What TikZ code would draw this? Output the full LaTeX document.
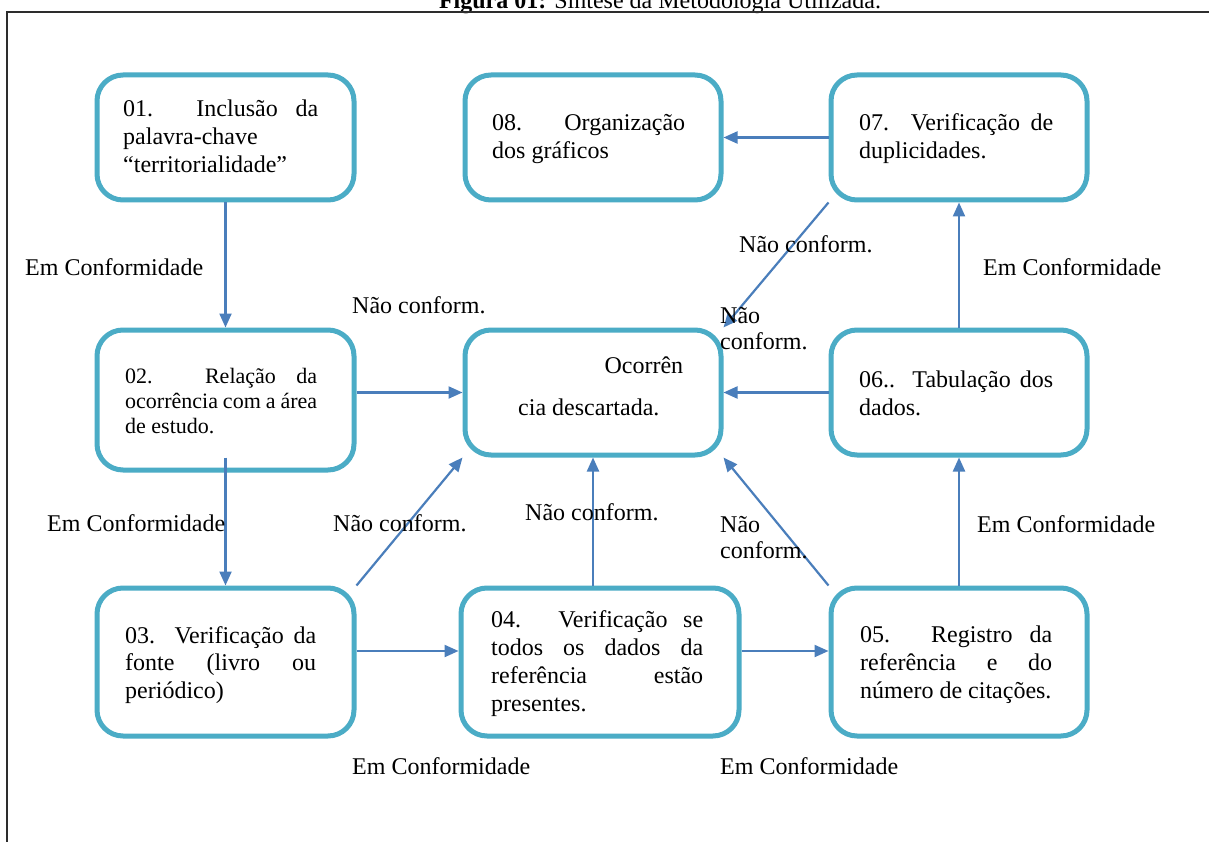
\documentclass[tikz,border=0pt]{standalone}
\usepackage{fontspec}
\setmainfont{Liberation Serif}
\usetikzlibrary{arrows.meta,calc}

\definecolor{boxline}{RGB}{75,172,198}
\definecolor{arrowblue}{RGB}{74,126,187}
\definecolor{framegray}{RGB}{45,45,45}

% text block helpers: justified line, left line, fixed-baseline stack
\newcommand{\jline}[1]{\hbox to\hsize{#1}}
\newcommand{\lline}[1]{\hbox{#1}}
\newcommand{\boxlines}[3]{\vtop{\hsize=#1\baselineskip=#2\lineskiplimit=-100pt\lineskip=0pt #3}}

\tikzset{
  stepbox/.style={draw=boxline, line width=5pt, rounded corners=26pt, fill=white, inner sep=0pt},
  txt/.style={anchor=base west, inner sep=0pt, font=\fontsize{24}{28}\selectfont},
  small/.style={anchor=base west, inner sep=0pt, font=\fontsize{22}{25}\selectfont},
  flow/.style={draw=arrowblue, line width=2.2pt, -{Triangle[length=14pt,width=12pt]}},
}

\begin{document}
\begin{tikzpicture}[x=1pt,y=-1pt]
\useasboundingbox (0,0) rectangle (1209,842);
\fill[white] (0,0) rectangle (1209,842);

% caption and frame
\node[anchor=base, inner sep=0pt, font=\fontsize{24}{28}\selectfont] (title) at (660,9)
  {\textbf{Figura 01:} Síntese da Metodologia Utilizada.};
\draw[framegray, line width=1.5pt] (7,900) -- (7,12) -- (1250,12);

% boxes
\node[stepbox, minimum width=257pt, minimum height=125pt] (b01) at (225.5,137.5) {};
\node[stepbox, minimum width=256pt, minimum height=125pt] (b08) at (593,137.5) {};
\node[stepbox, minimum width=256pt, minimum height=125pt] (b07) at (959,137.5) {};
\node[stepbox, minimum width=257pt, minimum height=140pt] (b02) at (225.5,400) {};
\node[stepbox, minimum width=256pt, minimum height=125pt] (occ) at (593,392.5) {};
\node[stepbox, minimum width=256pt, minimum height=125pt] (b06) at (959,392.5) {};
\node[stepbox, minimum width=257pt, minimum height=148pt] (b03) at (225.5,662) {};
\node[stepbox, minimum width=278pt, minimum height=148pt] (b04) at (600,662) {};
\node[stepbox, minimum width=256pt, minimum height=148pt] (b05) at (959,662) {};

% box texts
\node[txt] (t01) at (123,117) {\boxlines{195pt}{28pt}{%
  \jline{01. Inclusão da}\lline{palavra-chave}\lline{“territorialidade”}}};
\node[small] (t02) at (125,383) {\boxlines{192pt}{25pt}{%
  \jline{02. Relação da}\jline{ocorrência com a área}\lline{de estudo.}}};
\node[txt] (t03) at (125,643) {\boxlines{191pt}{27.5pt}{%
  \jline{03. Verificação da}\jline{fonte (livro ou}\lline{periódico)}}};
\node[txt] (t04) at (491,627) {\boxlines{212pt}{28.3pt}{%
  \jline{04. Verificação se}\jline{todos os dados da}\jline{referência estão}\lline{presentes.}}};
\node[txt] (t05) at (860,642) {\boxlines{192pt}{28pt}{%
  \jline{05. Registro da}\jline{referência e do}\lline{número de citações.}}};
\node[txt] (t06) at (859,387) {\boxlines{194pt}{28pt}{%
  \jline{06.. Tabulação dos}\lline{dados.}}};
\node[txt] (t07) at (859,131) {\boxlines{194pt}{28pt}{%
  \jline{07. Verificação de}\lline{duplicidades.}}};
\node[txt] (t08) at (492,131) {\boxlines{193pt}{28pt}{%
  \jline{08. Organização}\lline{dos gráficos}}};
\node[txt] (tocc) at (518,373) {\boxlines{165pt}{42pt}{%
  \jline{\hfill Ocorrên}\lline{cia descartada.}}};

% connectors
\draw[flow] (b01.south) -- (b02.north);
\draw[flow] ([yshift=15pt]b02.south) -- (b03.north);
\draw[flow] (occ.west -| b02.east) -- (occ.west);
\draw[flow] (b03.north east) -- (occ.south west);
\draw[flow] (occ.south |- b04.north) -- (occ.south);
\draw[flow] (b05.north west) -- (occ.south east);
\draw[flow] (b06.west) -- (occ.east);
\draw[flow] (b07.south west) -- (occ.north east);
\draw[flow] (b07.west) -- (b08.east);
\draw[flow] (b06.north) -- (b07.south);
\draw[flow] (b05.north) -- (b06.south);
\draw[flow] ([yshift=11pt]b03.east) -- ([yshift=11pt]b04.west);
\draw[flow] ([yshift=11pt]b04.east) -- ([yshift=11pt]b05.west);

% connector labels
\node[txt] (l1) at (25,276) {Em Conformidade};
\node[txt] (l2) at (352,313) {Não conform.};
\node[txt] (l3) at (739,253) {Não conform.};
\node[txt] (l4) at (720,323) {\boxlines{100pt}{26pt}{\lline{Não}\lline{conform.}}};
\node[txt] (l5) at (983,276) {Em Conformidade};
\node[txt] (l6) at (47,531) {Em Conformidade};
\node[txt] (l7) at (333,531) {Não conform.};
\node[txt] (l8) at (525,520) {Não conform.};
\node[txt] (l9) at (720,532) {\boxlines{100pt}{26pt}{\lline{Não}\lline{conform.}}};
\node[txt] (l10) at (977,532) {Em Conformidade};
\node[txt] (l11) at (352,774) {Em Conformidade};
\node[txt] (l12) at (720,774) {Em Conformidade};
\end{tikzpicture}
\end{document}
